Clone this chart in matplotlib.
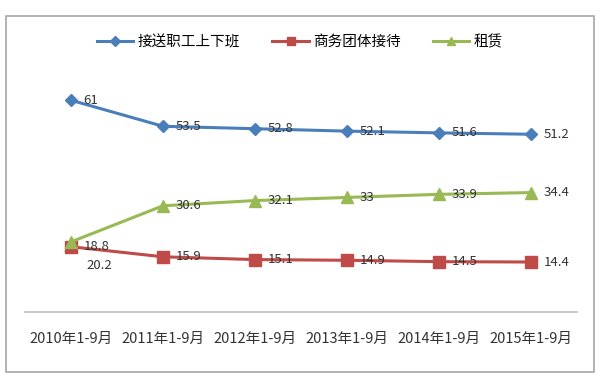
import matplotlib
matplotlib.use("Agg")
import matplotlib.pyplot as plt
from matplotlib.patches import Rectangle

plt.rcParams['font.family'] = ['Noto Sans CJK SC', 'DejaVu Sans']

categories = ["2010年1-9月", "2011年1-9月", "2012年1-9月", "2013年1-9月", "2014年1-9月", "2015年1-9月"]
series_names = ["接送职工上下班", "商务团体接待", "租赁"]
commute = [61, 53.5, 52.8, 52.1, 51.6, 51.2]
business = [18.8, 15.9, 15.1, 14.9, 14.5, 14.4]
rental = [20.2, 30.6, 32.1, 33, 33.9, 34.4]

colors = ["#4A7EBB", "#BE4B48", "#98B954"]
markers = ["D", "s", "^"]
msizes = [6, 8, 8]

fig = plt.figure(figsize=(6, 3.76), dpi=100)
fig.patches.append(Rectangle((6/600, 1-372/376), 588/600, 356/376, transform=fig.transFigure,
                             fill=False, edgecolor="#A6A6A6", linewidth=1.2))
ax = fig.add_axes([25/600, 1-312/376, 552/600, 243/376])
x = list(range(len(categories)))
data = [commute, business, rental]
for i, (vals, name) in enumerate(zip(data, series_names)):
    ax.plot(x, vals, color=colors[i], marker=markers[i], markersize=msizes[i],
            linewidth=2.2, label=name, markeredgecolor=colors[i])

lab_kw = dict(textcoords="offset points", va="center", ha="left", fontsize=9.5, color="#333333")
for j, v in enumerate(commute):
    ax.annotate(f"{v:g}", (j, v), xytext=(9, 0), **lab_kw)
for j, v in enumerate(business):
    ax.annotate(f"{v:g}", (j, v), xytext=(9, 0), **lab_kw)
for j, v in enumerate(rental):
    off = (11, -17) if j == 0 else (9, 0)
    ax.annotate(f"{v:g}", (j, v), xytext=off, **lab_kw)

ax.set_xlim(-0.5, len(categories) - 0.5)
ax.set_ylim(0, 70)
ax.set_xticks(x)
ax.set_xticklabels(categories, fontsize=10.5, color="#333333")
ax.tick_params(axis="x", length=0, pad=14)
ax.set_yticks([])
for s in ["left", "right", "top"]:
    ax.spines[s].set_visible(False)
ax.spines["bottom"].set_color("#BFBFBF")
ax.spines["bottom"].set_linewidth(1.2)

fig.legend(loc="center", bbox_to_anchor=(0.5, 1-42/376), ncol=3, frameon=False,
           fontsize=10.5, handlelength=2.5, columnspacing=2.2, handletextpad=0.3,
           markerscale=0.8)

fig.savefig("out.png", dpi=100)
